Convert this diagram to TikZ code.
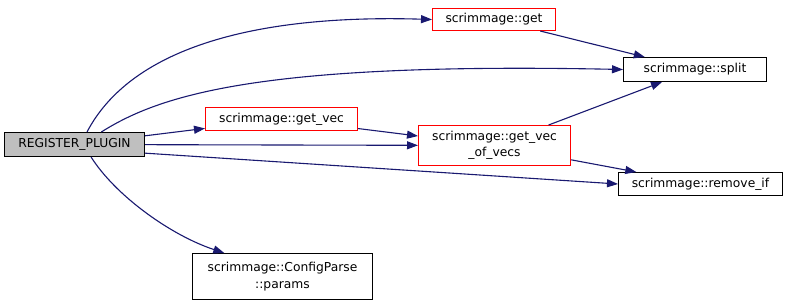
\documentclass[tikz,border=0pt]{standalone}
\usepackage{fontspec}
\setmainfont{DejaVu Sans}
\usetikzlibrary{arrows.meta}
\definecolor{edgeblue}{HTML}{191970}
\definecolor{rootgray}{HTML}{BFBFBF}

\begin{document}
\begin{tikzpicture}[x=1pt,y=-1pt,
    fnbox/.style={draw=black,line width=1pt,inner sep=0pt,align=center,minimum height=24pt,
      font=\fontsize{12.3}{16.5}\selectfont},
    linkbox/.style={fnbox,draw=red},
    call/.style={draw=edgeblue,line width=1.1pt,-{Triangle[length=11pt,width=8pt]}}]
        \useasboundingbox (0,0) rectangle (789,306);

        \node[fnbox,fill=rootgray,minimum width=140pt] (reg) at (74.5,144.5) {REGISTER\_PLUGIN};

        \node[linkbox,minimum width=123pt,minimum height=22pt] (get) at (494,19.5) {scrimmage::get};
        \node[linkbox,minimum width=152pt,minimum height=23pt] (getvec) at (281.5,119) {scrimmage::get\_vec};
        \node[linkbox,minimum width=152pt,minimum height=40pt] (vecs) at (494.5,145.5) {scrimmage::get\_vec\\\_of\_vecs};

        \node[fnbox,minimum width=143pt] (split) at (695,69.5) {scrimmage::split};
        \node[fnbox,minimum width=164pt,minimum height=23pt] (remove) at (700.5,184) {scrimmage::remove\_if};
        \node[fnbox,minimum width=180pt,minimum height=46pt] (params) at (282.5,276.5) {scrimmage::ConfigParse\\::params};

        % calls out of REGISTER_PLUGIN
        \draw[call] (reg.45) .. controls (130,50) and (250,14) .. (get.west);
        \draw[call] (reg.25) .. controls (160,95) and (260,62) .. (split.west);
        \draw[call] (reg) -- (getvec);
        \draw[call] (reg) -- (vecs);
        \draw[call] (reg.-7) -- (remove.west);
        \draw[call] (reg.-37) .. controls (115,195) and (170,235) .. (params.158);

        % calls further down
        \draw[call] (get) -- (split);
        \draw[call] (getvec) -- (vecs);
        \draw[call] (vecs) -- (split);
        \draw[call] (vecs) -- (remove);
    \end{tikzpicture}
\end{document}
